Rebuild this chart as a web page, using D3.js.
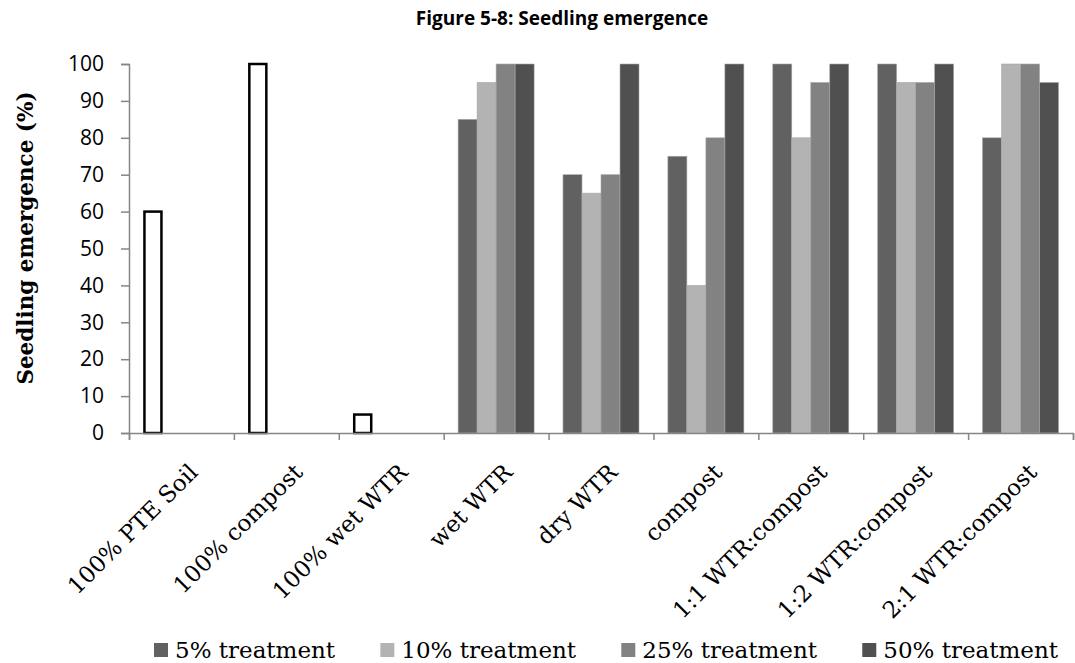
<!DOCTYPE html>
<html>
<head>
<meta charset="utf-8">
<script src="https://cdn.jsdelivr.net/npm/d3@7"></script>
<style>
  body { margin: 0; background: #fff; }
  svg { display: block; }
</style>
</head>
<body>
<div id="chart"></div>
<script>
// categories along the x axis
const categories = ["100% PTE Soil", "100% compost", "100% wet WTR", "wet WTR", "dry WTR",
    "compost", "1:1 WTR:compost", "1:2 WTR:compost", "2:1 WTR:compost"];

// treatment series
const seriesNames = ["5% treatment", "10% treatment", "25% treatment", "50% treatment"];
const seriesColors = ["#616161", "#b3b3b3", "#828282", "#505050"];

// values per series (null = no bar)
const pct5  = [null, null, null, 85, 70, 75, 100, 100, 80];
const pct10 = [null, null, null, 95, 65, 40, 80, 95, 100];
const pct25 = [null, null, null, 100, 70, 80, 95, 95, 100];
const pct50 = [null, null, null, 100, 100, 100, 100, 100, 95];

// pure material controls (drawn as outlined bars in the first slot)
const controls = [60, 100, 5, null, null, null, null, null, null];

const yTicks = [0, 10, 20, 30, 40, 50, 60, 70, 80, 90, 100];

const width = 1075, height = 663;
const margin = { left: 129, top: 64 };
const plotRight = 1073, plotBottom = 433;

const svg = d3.select("#chart").append("svg")
    .attr("width", width)
    .attr("height", height);

// scales
const x = d3.scaleBand().domain(categories).range([margin.left, plotRight]).paddingInner(0).paddingOuter(0);
const xSub = d3.scaleBand().domain(seriesNames).range([0, x.bandwidth()]).paddingInner(0).paddingOuter(0.76);
const y = d3.scaleLinear().domain([0, 100]).range([plotBottom, margin.top]);
const xEdges = d3.scaleLinear().domain([0, categories.length]).range([margin.left, plotRight]);

// title
svg.append("text")
    .attr("x", 562)
    .attr("y", 25)
    .attr("text-anchor", "middle")
    .style("font-family", "'Open Sans', sans-serif")
    .style("font-weight", "bold")
    .style("font-size", "19px")
    .text("Figure 5-8: Seedling emergence");

// bars
const allSeries = [pct5, pct10, pct25, pct50];
const barData = [];
allSeries.forEach((vals, si) => {
    vals.forEach((v, ci) => {
        if (v != null) barData.push({ cat: categories[ci], s: seriesNames[si], v: v, color: seriesColors[si] });
    });
});

svg.append("g")
    .selectAll("rect")
    .data(barData)
    .join("rect")
    .attr("x", d => x(d.cat) + xSub(d.s))
    .attr("y", d => y(d.v))
    .attr("width", xSub.bandwidth())
    .attr("height", d => y(0) - y(d.v))
    .attr("fill", d => d.color)
    .attr("stroke", "#a8a8a8")
    .attr("stroke-width", 0.6);

// outlined control bars
const ctrlData = controls.map((v, i) => ({ cat: categories[i], v: v })).filter(d => d.v != null);
svg.append("g")
    .selectAll("rect")
    .data(ctrlData)
    .join("rect")
    .attr("x", d => x(d.cat) + xSub(seriesNames[0]) + 1)
    .attr("y", d => y(d.v))
    .attr("width", xSub.bandwidth() - 2)
    .attr("height", d => y(0) - y(d.v))
    .attr("fill", "#fff")
    .attr("stroke", "#000")
    .attr("stroke-width", 2.5);

// y axis
const yAxis = svg.append("g")
    .attr("transform", `translate(${margin.left},0)`)
    .call(d3.axisLeft(y).tickValues(yTicks).tickSize(8).tickPadding(17));
yAxis.selectAll("line, path").attr("stroke", "#868686").attr("stroke-width", 1.5);
yAxis.selectAll("text")
    .style("font-family", "'Open Sans', sans-serif")
    .style("font-size", "21px")
    .attr("fill", "#000");

// x axis (ticks at category boundaries)
const xAxis = svg.append("g")
    .attr("transform", `translate(0,${plotBottom})`)
    .call(d3.axisBottom(xEdges).tickValues(d3.range(categories.length + 1)).tickSize(7).tickFormat(""));
xAxis.selectAll("line, path").attr("stroke", "#868686").attr("stroke-width", 1.5);

// rotated category labels
svg.append("g")
    .selectAll("text")
    .data(categories)
    .join("text")
    .attr("transform", d => `translate(${x(d) + x.bandwidth() / 2 + 12},468) rotate(-45)`)
    .attr("text-anchor", "end")
    .attr("dy", "0.35em")
    .style("font-family", "'DejaVu Serif', serif")
    .style("font-size", "23px")
    .text(d => d);

// y axis title
svg.append("text")
    .attr("transform", "translate(33,238) rotate(-90)")
    .attr("text-anchor", "middle")
    .style("font-family", "'DejaVu Serif', serif")
    .style("font-weight", "bold")
    .style("font-size", "21.5px")
    .text("Seedling emergence (%)");

// legend: spread items between the left and right limits
const legendLeft = 154, legendRight = 1058;
const legend = svg.append("g");
const items = seriesNames.map((name, i) => {
    const g = legend.append("g");
    g.append("rect")
        .attr("y", 643)
        .attr("width", 14)
        .attr("height", 14)
        .attr("fill", seriesColors[i]);
    const t = g.append("text")
        .attr("x", 21)
        .attr("y", 658)
        .style("font-family", "'DejaVu Serif', serif")
        .style("font-size", "23px")
        .text(name);
    return { g: g, w: 21 + t.node().getComputedTextLength() };
});
const totalW = d3.sum(items, d => d.w);
const gap = (legendRight - legendLeft - totalW) / (items.length - 1);
let lx = legendLeft;
items.forEach(it => {
    it.g.attr("transform", `translate(${lx},0)`);
    lx += it.w + gap;
});
</script>
</body>
</html>
